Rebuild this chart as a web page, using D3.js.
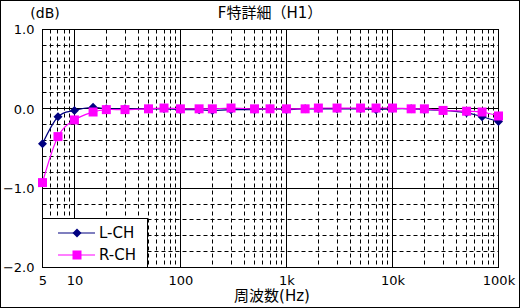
<!DOCTYPE html>
<html>
<head>
<meta charset="utf-8">
<script src="https://cdn.jsdelivr.net/npm/d3@7"></script>
<style>
  html, body { margin: 0; padding: 0; background: #fff; }
  svg { display: block; font-family: "DejaVu Sans", "Noto Sans CJK JP", sans-serif; }
</style>
</head>
<body>
<div class="chart"></div>
<script>
// frequencies (Hz) and levels (dB)
const freqs = [5, 7, 10, 15, 20, 30, 50, 70, 100, 150, 200, 300, 500, 700,
  1000, 1500, 2000, 3000, 5000, 7000, 10000, 15000, 20000, 30000, 50000, 70000, 100000];
const leftCh = [-0.44, -0.10, -0.02, 0.02, 0.00, 0.00, 0.00, 0.00, -0.01, -0.01, -0.02, -0.01, -0.01, 0.00,
  -0.01, 0.00, 0.00, 0.00, 0.00, -0.01, 0.00, 0.00, -0.01, -0.02, -0.05, -0.10, -0.16];
const rightCh = [-0.93, -0.35, -0.14, -0.04, -0.01, -0.01, 0.00, 0.01, 0.00, 0.00, 0.00, 0.01, 0.00, 0.00,
  0.00, 0.00, 0.01, 0.01, 0.01, 0.01, 0.01, 0.00, 0.00, -0.02, -0.03, -0.04, -0.09];
const seriesNames = ["L-CH", "R-CH"];
const xTicks = [5, 10, 100, 1000, 10000, 100000];
const xTickLabels = ["5", "10", "100", "1k", "10k", "100k"];
const yTicks = [1, 0, -1, -2];

const W = 520, H = 308;
const navy = "#000080", magenta = "#ff00ff";

const svg = d3.select(".chart").append("svg")
  .attr("width", W).attr("height", H);

svg.append("rect")
  .attr("x", 0.5).attr("y", 0.5)
  .attr("width", W - 1).attr("height", H - 1)
  .attr("fill", "#fff").attr("stroke", "#000");

const x = d3.scaleLog().domain([5, 100000]).range([42.5, 498.5]);
const y = d3.scaleLinear().domain([-2, 1]).range([267.5, 29.5]);

// grid
const grid = svg.append("g");
x.ticks().filter((v) => v > 5 && v < 100000).forEach((v) => {
  const major = Math.abs(Math.log10(v) - Math.round(Math.log10(v))) < 1e-9;
  grid.append("line")
    .attr("x1", Math.round(x(v) - 0.5) + 0.5).attr("x2", Math.round(x(v) - 0.5) + 0.5)
    .attr("y1", y(1)).attr("y2", y(-2))
    .attr("stroke", "#000")
    .attr("stroke-dasharray", major ? null : "4,3");
});
y.ticks(15).filter((v) => v > -2 && v < 1).forEach((v) => {
  const major = Math.abs(v - Math.round(v)) < 1e-9;
  grid.append("line")
    .attr("x1", x(5)).attr("x2", x(100000))
    .attr("y1", Math.round(y(v) - 0.5) + 0.5).attr("y2", Math.round(y(v) - 0.5) + 0.5)
    .attr("stroke", "#000")
    .attr("stroke-dasharray", major ? null : "4,3");
});

svg.append("rect")
  .attr("x", x(5)).attr("y", y(1))
  .attr("width", x(100000) - x(5)).attr("height", y(-2) - y(1))
  .attr("fill", "none").attr("stroke", "#000");

// axes
const xAxis = svg.append("g")
  .attr("transform", `translate(0,${y(-2)})`)
  .call(d3.axisBottom(x).tickValues(xTicks)
    .tickFormat((d, i) => xTickLabels[i]).tickSize(0).tickPadding(8));
xAxis.select(".domain").remove();

const yAxis = svg.append("g")
  .attr("transform", `translate(${x(5)},0)`)
  .call(d3.axisLeft(y).tickValues(yTicks).tickFormat(d3.format(".1f")).tickSize(0).tickPadding(8));
yAxis.select(".domain").remove();

svg.selectAll(".tick text")
  .attr("font-family", "DejaVu Sans, sans-serif")
  .attr("font-size", 13).attr("fill", "#000");

// titles
svg.append("text")
  .attr("x", 270).attr("y", 13).attr("dy", "0.35em")
  .attr("text-anchor", "middle").attr("font-size", 15)
  .text("F特詳細（H1）");
svg.append("text")
  .attr("x", 45).attr("y", 13).attr("dy", "0.35em")
  .attr("text-anchor", "middle").attr("font-size", 14)
  .text("(dB)");
svg.append("text")
  .attr("x", 272).attr("y", 296).attr("dy", "0.35em")
  .attr("text-anchor", "middle").attr("font-size", 15)
  .text("周波数(Hz)");

// series
const line = d3.line()
  .x((d) => x(d[0]))
  .y((d) => y(d[1]))
  .curve(d3.curveCatmullRom.alpha(0));

const diamond = (s) => `M0,${-s}L${s},0L0,${s}L${-s},0Z`;
const square = (s) => `M${-s},${-s}H${s}V${s}H${-s}Z`;

const series = [
  { name: seriesNames[0], values: leftCh, color: navy, marker: diamond(4.5) },
  { name: seriesNames[1], values: rightCh, color: magenta, marker: square(4.5) },
];

series.forEach((s) => {
  const pts = freqs.map((f, i) => [f, s.values[i]]);
  svg.append("path")
    .attr("d", line(pts))
    .attr("fill", "none")
    .attr("stroke", s.color)
    .attr("stroke-width", 1.2);
  svg.append("g")
    .selectAll("path")
    .data(pts)
    .enter()
    .append("path")
    .attr("transform", (d) => `translate(${x(d[0])},${y(d[1])})`)
    .attr("d", s.marker)
    .attr("fill", s.color);
});

// legend
const legend = svg.append("g");
legend.append("rect")
  .attr("x", x(5)).attr("y", 218.5)
  .attr("width", 105).attr("height", y(-2) - 218.5)
  .attr("fill", "#fff").attr("stroke", "#000");
series.forEach((s, i) => {
  const ly = 233 + i * 22;
  legend.append("line")
    .attr("x1", 58).attr("x2", 95)
    .attr("y1", ly).attr("y2", ly)
    .attr("stroke", s.color).attr("stroke-width", 1.2);
  legend.append("path")
    .attr("transform", `translate(77,${ly})`)
    .attr("d", s.marker)
    .attr("fill", s.color);
  legend.append("text")
    .attr("x", 99).attr("y", ly).attr("dy", "0.35em")
    .attr("font-size", 15)
    .text(s.name);
});
</script>
</body>
</html>
